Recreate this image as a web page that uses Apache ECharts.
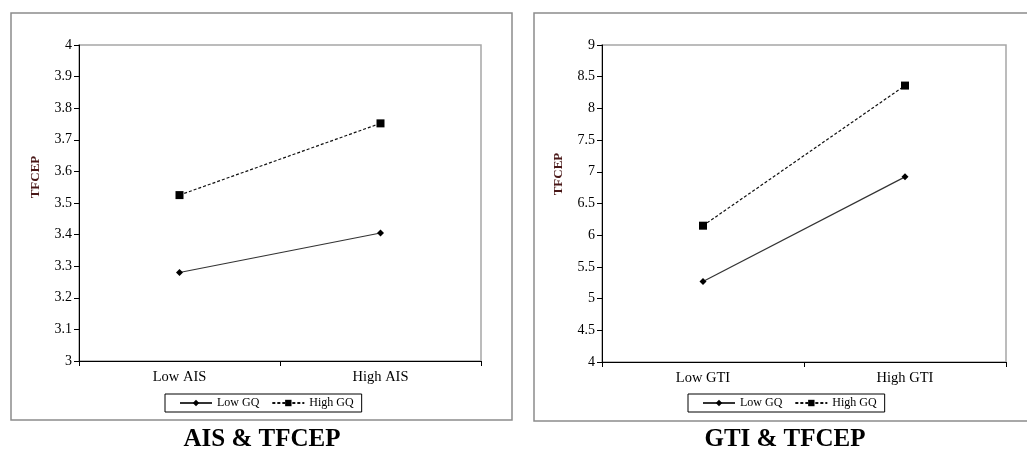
<!DOCTYPE html>
<html>
<head>
<meta charset="utf-8">
<script src="https://cdn.jsdelivr.net/npm/echarts@6/dist/echarts.min.js"></script>
<style>
  html, body { margin: 0; padding: 0; background: #fff; }
  #box { width: 1027px; height: 450px; }
</style>
</head>
<body>
<div id="box"></div>
<script>
// data
const aisCategories = ['Low AIS', 'High AIS']
const gtiCategories = ['Low GTI', 'High GTI']
const aisLowGQ = [3.28, 3.405]
const aisHighGQ = [3.525, 3.752]
const gtiLowGQ = [5.27, 6.92]
const gtiHighGQ = [6.15, 8.36]
const seriesNames = ['Low GQ', 'High GQ']
const panelTitles = ['AIS & TFCEP', 'GTI & TFCEP']
const yName = 'TFCEP'

const serif = 'Liberation Serif'

function xAxisFor(idx, cats) {
  return {
    type: 'category',
    gridIndex: idx,
    data: cats,
    boundaryGap: true,
    axisLine: { lineStyle: { color: '#000', width: 1 } },
    axisTick: { show: true, alignWithLabel: false, length: 5, lineStyle: { color: '#000' } },
    axisLabel: { color: '#000', fontFamily: serif, fontSize: 14.5, margin: 9 }
  }
}

function yAxisFor(idx, min, max, interval) {
  return {
    type: 'value',
    gridIndex: idx,
    min: min,
    max: max,
    interval: interval,
    axisLine: { show: true, lineStyle: { color: '#000', width: 1 } },
    axisTick: { show: true, length: 5, lineStyle: { color: '#000' } },
    splitLine: { show: false },
    axisLabel: { color: '#000', fontFamily: serif, fontSize: 14, margin: 7 }
  }
}

function lineSeries(name, data, idx, dashed) {
  return {
    name: name,
    type: 'line',
    xAxisIndex: idx,
    yAxisIndex: idx,
    data: data,
    symbol: dashed ? 'rect' : 'diamond',
    symbolSize: dashed ? 8 : 7,
    color: '#000',
    itemStyle: { color: '#000' },
    lineStyle: { color: dashed ? '#111' : '#333', width: 1.2, type: dashed ? [3, 2] : 'solid' },
    animation: false
  }
}

function legendFor(left) {
  return {
    data: seriesNames.map(n => n),
    left: left,
    top: 394,
    orient: 'horizontal',
    borderColor: '#000',
    borderWidth: 1,
    padding: [3, 8, 3, 14],
    itemGap: 12,
    itemWidth: 32,
    itemHeight: 8,
    textStyle: { color: '#000', fontFamily: serif, fontSize: 12 },
    selectedMode: false
  }
}

function axisTitle(x, y) {
  return {
    type: 'text',
    x: x,
    y: y,
    rotation: Math.PI / 2,
    style: { text: yName, fill: '#4a1818', font: 'bold 13px "Liberation Serif"', textAlign: 'center', textVerticalAlign: 'middle' }
  }
}

function panelTitle(x, text) {
  return {
    type: 'text',
    x: x,
    y: 440,
    style: { text: text, fill: '#000', font: 'bold 25px "Liberation Serif"', textAlign: 'center', textVerticalAlign: 'middle' }
  }
}

const chart = echarts.init(document.getElementById('box'))
chart.setOption({
  backgroundColor: '#fff',
  animation: false,
  grid: [
    { left: 79, top: 45, width: 402, height: 316, show: true, borderColor: '#a6a6a6', borderWidth: 1.5 },
    { left: 602, top: 45, width: 404, height: 317, show: true, borderColor: '#a6a6a6', borderWidth: 1.5 }
  ],
  xAxis: [xAxisFor(0, aisCategories), xAxisFor(1, gtiCategories)],
  yAxis: [yAxisFor(0, 3, 4, 0.1), yAxisFor(1, 4, 9, 0.5)],
  legend: [legendFor(165), legendFor(688)],
  series: [
    lineSeries(seriesNames[0], aisLowGQ, 0, false),
    lineSeries(seriesNames[1], aisHighGQ, 0, true),
    lineSeries(seriesNames[0], gtiLowGQ, 1, false),
    lineSeries(seriesNames[1], gtiHighGQ, 1, true)
  ],
  graphic: [
    {
      type: 'rect',
      shape: { x: 11, y: 13, width: 501, height: 407 },
      style: { fill: 'none', stroke: '#8c8c8c', lineWidth: 1.5 },
      silent: true
    },
    {
      type: 'rect',
      shape: { x: 534, y: 13, width: 520, height: 408 },
      style: { fill: 'none', stroke: '#8c8c8c', lineWidth: 1.5 },
      silent: true
    },
    axisTitle(36, 177),
    axisTitle(559, 174),
    panelTitle(262, panelTitles[0]),
    panelTitle(785, panelTitles[1])
  ]
})
</script>
</body>
</html>
